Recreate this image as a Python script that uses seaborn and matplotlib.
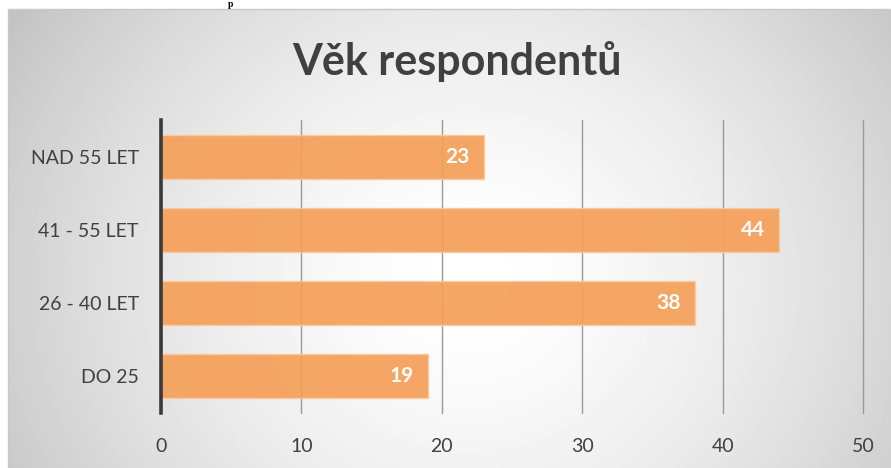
import numpy as np
import pandas as pd
import seaborn as sns
import matplotlib.pyplot as plt
from matplotlib.patches import Rectangle

# data
categories = ['NAD 55 LET', '41 - 55 LET', '26 - 40 LET', 'DO 25']
counts = [23, 44, 38, 19]
xticks = [0, 10, 20, 30, 40, 50]

df = pd.DataFrame({'vek': categories, 'pocet': counts})

sns.set_theme(style='white')
plt.rcParams['font.family'] = ['Lato', 'DejaVu Sans']

W, H = 891, 468
fig = plt.figure(figsize=(W / 100, H / 100), dpi=100)
fig.patch.set_facecolor('white')

# radial grey-white background inside the chart frame
bg = fig.add_axes([8 / W, 0, 1 - 8 / W, 1 - 9 / H], zorder=0)
yy, xx = np.mgrid[9:H, 8:W]
d = np.hypot(xx - 470, (yy - 280) * 1.1)
shade = 1 - 0.22 * np.clip(d / 520, 0, 1.2) ** 1.6
bg.imshow(shade, cmap='gray', vmin=0, vmax=1, aspect='auto',
          extent=[0, 1, 0, 1], interpolation='bilinear')
bg.set_axis_off()
fig.add_artist(Rectangle((8 / W, -0.01), 1, 1 - 9 / H + 0.01,
                         transform=fig.transFigure, fill=False,
                         edgecolor='#c8c8c8', lw=1, zorder=1))

# heading fragment above the chart
fig.text(228 / W, 1.0, 'p', family='Liberation Serif', fontweight='bold',
         fontsize=7, color='black', va='top', ha='left')

ax = fig.add_axes([161 / W, 1 - 413 / H, (863 - 161) / W, (413 - 120) / H], zorder=2)
ax.patch.set_alpha(0)

sns.barplot(data=df, x='pocet', y='vek', orient='h', ax=ax,
            color='#f5a05a', saturation=1, alpha=0.93, width=0.6,
            edgecolor='#fbcaa2', linewidth=1)

ax.set_xlim(0, 50)
ax.set_xticks(xticks)
ax.xaxis.grid(True, color='#9a9a9a', lw=1)
for gl in ax.get_xgridlines():
    gl.set_clip_on(False)
ax.set_axisbelow(True)
for s in ['top', 'right', 'bottom']:
    ax.spines[s].set_visible(False)
ax.spines['left'].set_color('#3a3a3a')
ax.spines['left'].set_linewidth(2.6)
ax.tick_params(length=0, labelsize=14, colors='#404040')
ax.tick_params(axis='x', pad=18)
ax.tick_params(axis='y', pad=16)
ax.set_xlabel('')
ax.set_ylabel('')

for i, v in enumerate(counts):
    ax.text(v - 1.0, i, str(v), ha='right', va='center', color='white',
            fontsize=15, fontweight='bold')

fig.text(457 / W, 1 - 62 / H, 'Věk respondentů', ha='center', va='center',
         fontsize=31, fontweight='bold', color='#404040')

fig.savefig('out.png', dpi=100)
